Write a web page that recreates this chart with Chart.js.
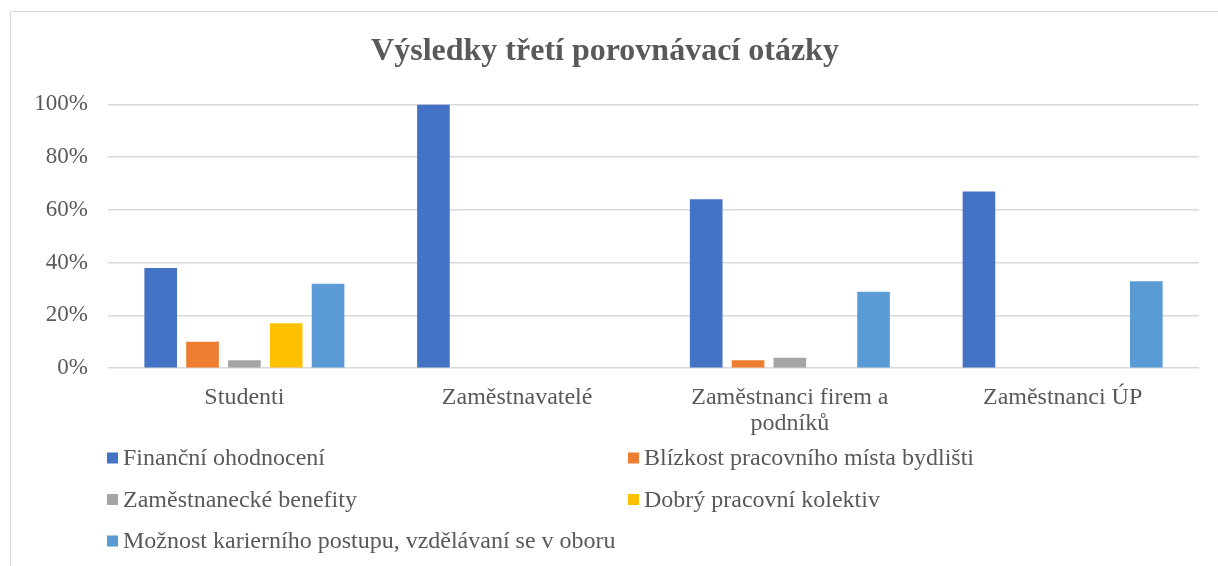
<!DOCTYPE html>
<html lang="cs">
<head>
    <meta charset="UTF-8" />
    <title>Výsledky třetí porovnávací otázky</title>
    <script src="https://cdn.jsdelivr.net/npm/chart.js"></script>
    <style>
        html, body { margin: 0; padding: 0; background: #fff; overflow: hidden; }
        #frame {
            position: absolute; left: 10px; top: 11px;
            width: 1220px; height: 560px;
            border: 1px solid #d9d9d9;
        }
        #chart { display: block; }
    </style>
</head>
<body>
    <div id="frame">
        <canvas id="chart" width="1220" height="560"></canvas>
    </div>

    <script>
        const categories = ['Studenti', 'Zaměstnavatelé', ['Zaměstnanci firem a', 'podníků'], 'Zaměstnanci ÚP'];
        const seriesNames = [
            'Finanční ohodnocení',
            'Blízkost pracovního místa bydlišti',
            'Zaměstnanecké benefity',
            'Dobrý pracovní kolektiv',
            'Možnost karierního postupu, vzdělávaní se v oboru'
        ];
        const financni  = [38, 100, 64, 67];
        const blizkost  = [10, 0, 3, 0];
        const benefity  = [3, 0, 4, 0];
        const kolektiv  = [17, 0, 0, 0];
        const kariera   = [32, 0, 29, 33];
        const yTicks = [0, 20, 40, 60, 80, 100];

        const colors = ['#4472C4', '#ED7D31', '#A5A5A5', '#FFC000', '#5B9BD5'];
        const values = [financni, blizkost, benefity, kolektiv, kariera];
        const serif = '"Liberation Serif", "Times New Roman", serif';
        const textColor = '#595959';

        // legend in two fixed columns under the axis
        const columnLegend = {
            id: 'columnLegend',
            afterDraw(chart) {
                const ctx = chart.ctx;
                ctx.save();
                ctx.font = '24px ' + serif;
                ctx.textBaseline = 'middle';
                ctx.textAlign = 'left';
                chart.data.datasets.forEach((ds, i) => {
                    const col = i % 2, row = Math.floor(i / 2);
                    const x = col === 0 ? 96 : 617;
                    const y = 446 + row * 41.5;
                    ctx.fillStyle = ds.backgroundColor;
                    ctx.fillRect(x, y - 5.5, 11, 11);
                    ctx.fillStyle = textColor;
                    ctx.fillText(ds.label, x + 16, y + 1);
                });
                ctx.restore();
            }
        };

        new Chart(document.getElementById('chart'), {
            type: 'bar',
            data: {
                labels: categories,
                datasets: seriesNames.map((name, i) => ({
                    label: name,
                    data: values[i],
                    backgroundColor: colors[i],
                    categoryPercentage: 0.767,
                    barPercentage: 0.78
                }))
            },
            options: {
                responsive: false,
                animation: false,
                layout: { padding: { top: 10, right: 32, bottom: 119, left: 0 } },
                plugins: {
                    legend: { display: false },
                    tooltip: { enabled: false },
                    title: {
                        display: true,
                        text: 'Výsledky třetí porovnávací otázky',
                        color: textColor,
                        font: { family: serif, size: 32, weight: 'bold' },
                        padding: { top: 11, bottom: 33 }
                    }
                },
                scales: {
                    x: {
                        grid: { display: false, drawTicks: false },
                        border: { display: false },
                        ticks: {
                            color: textColor,
                            font: { family: serif, size: 24, lineHeight: 1.1 },
                            padding: 16,
                            maxRotation: 0
                        }
                    },
                    y: {
                        min: 0,
                        max: 100,
                        afterFit(scale) { scale.width = 97; },
                        afterBuildTicks(scale) { scale.ticks = yTicks.map(v => ({ value: v })); },
                        grid: { color: '#d9d9d9', lineWidth: 1.5, drawTicks: false },
                        border: { display: false },
                        ticks: {
                            color: textColor,
                            font: { family: serif, size: 23 },
                            padding: 20,
                            callback: v => v + '%'
                        }
                    }
                }
            },
            plugins: [columnLegend]
        });
    </script>
</body>
</html>
